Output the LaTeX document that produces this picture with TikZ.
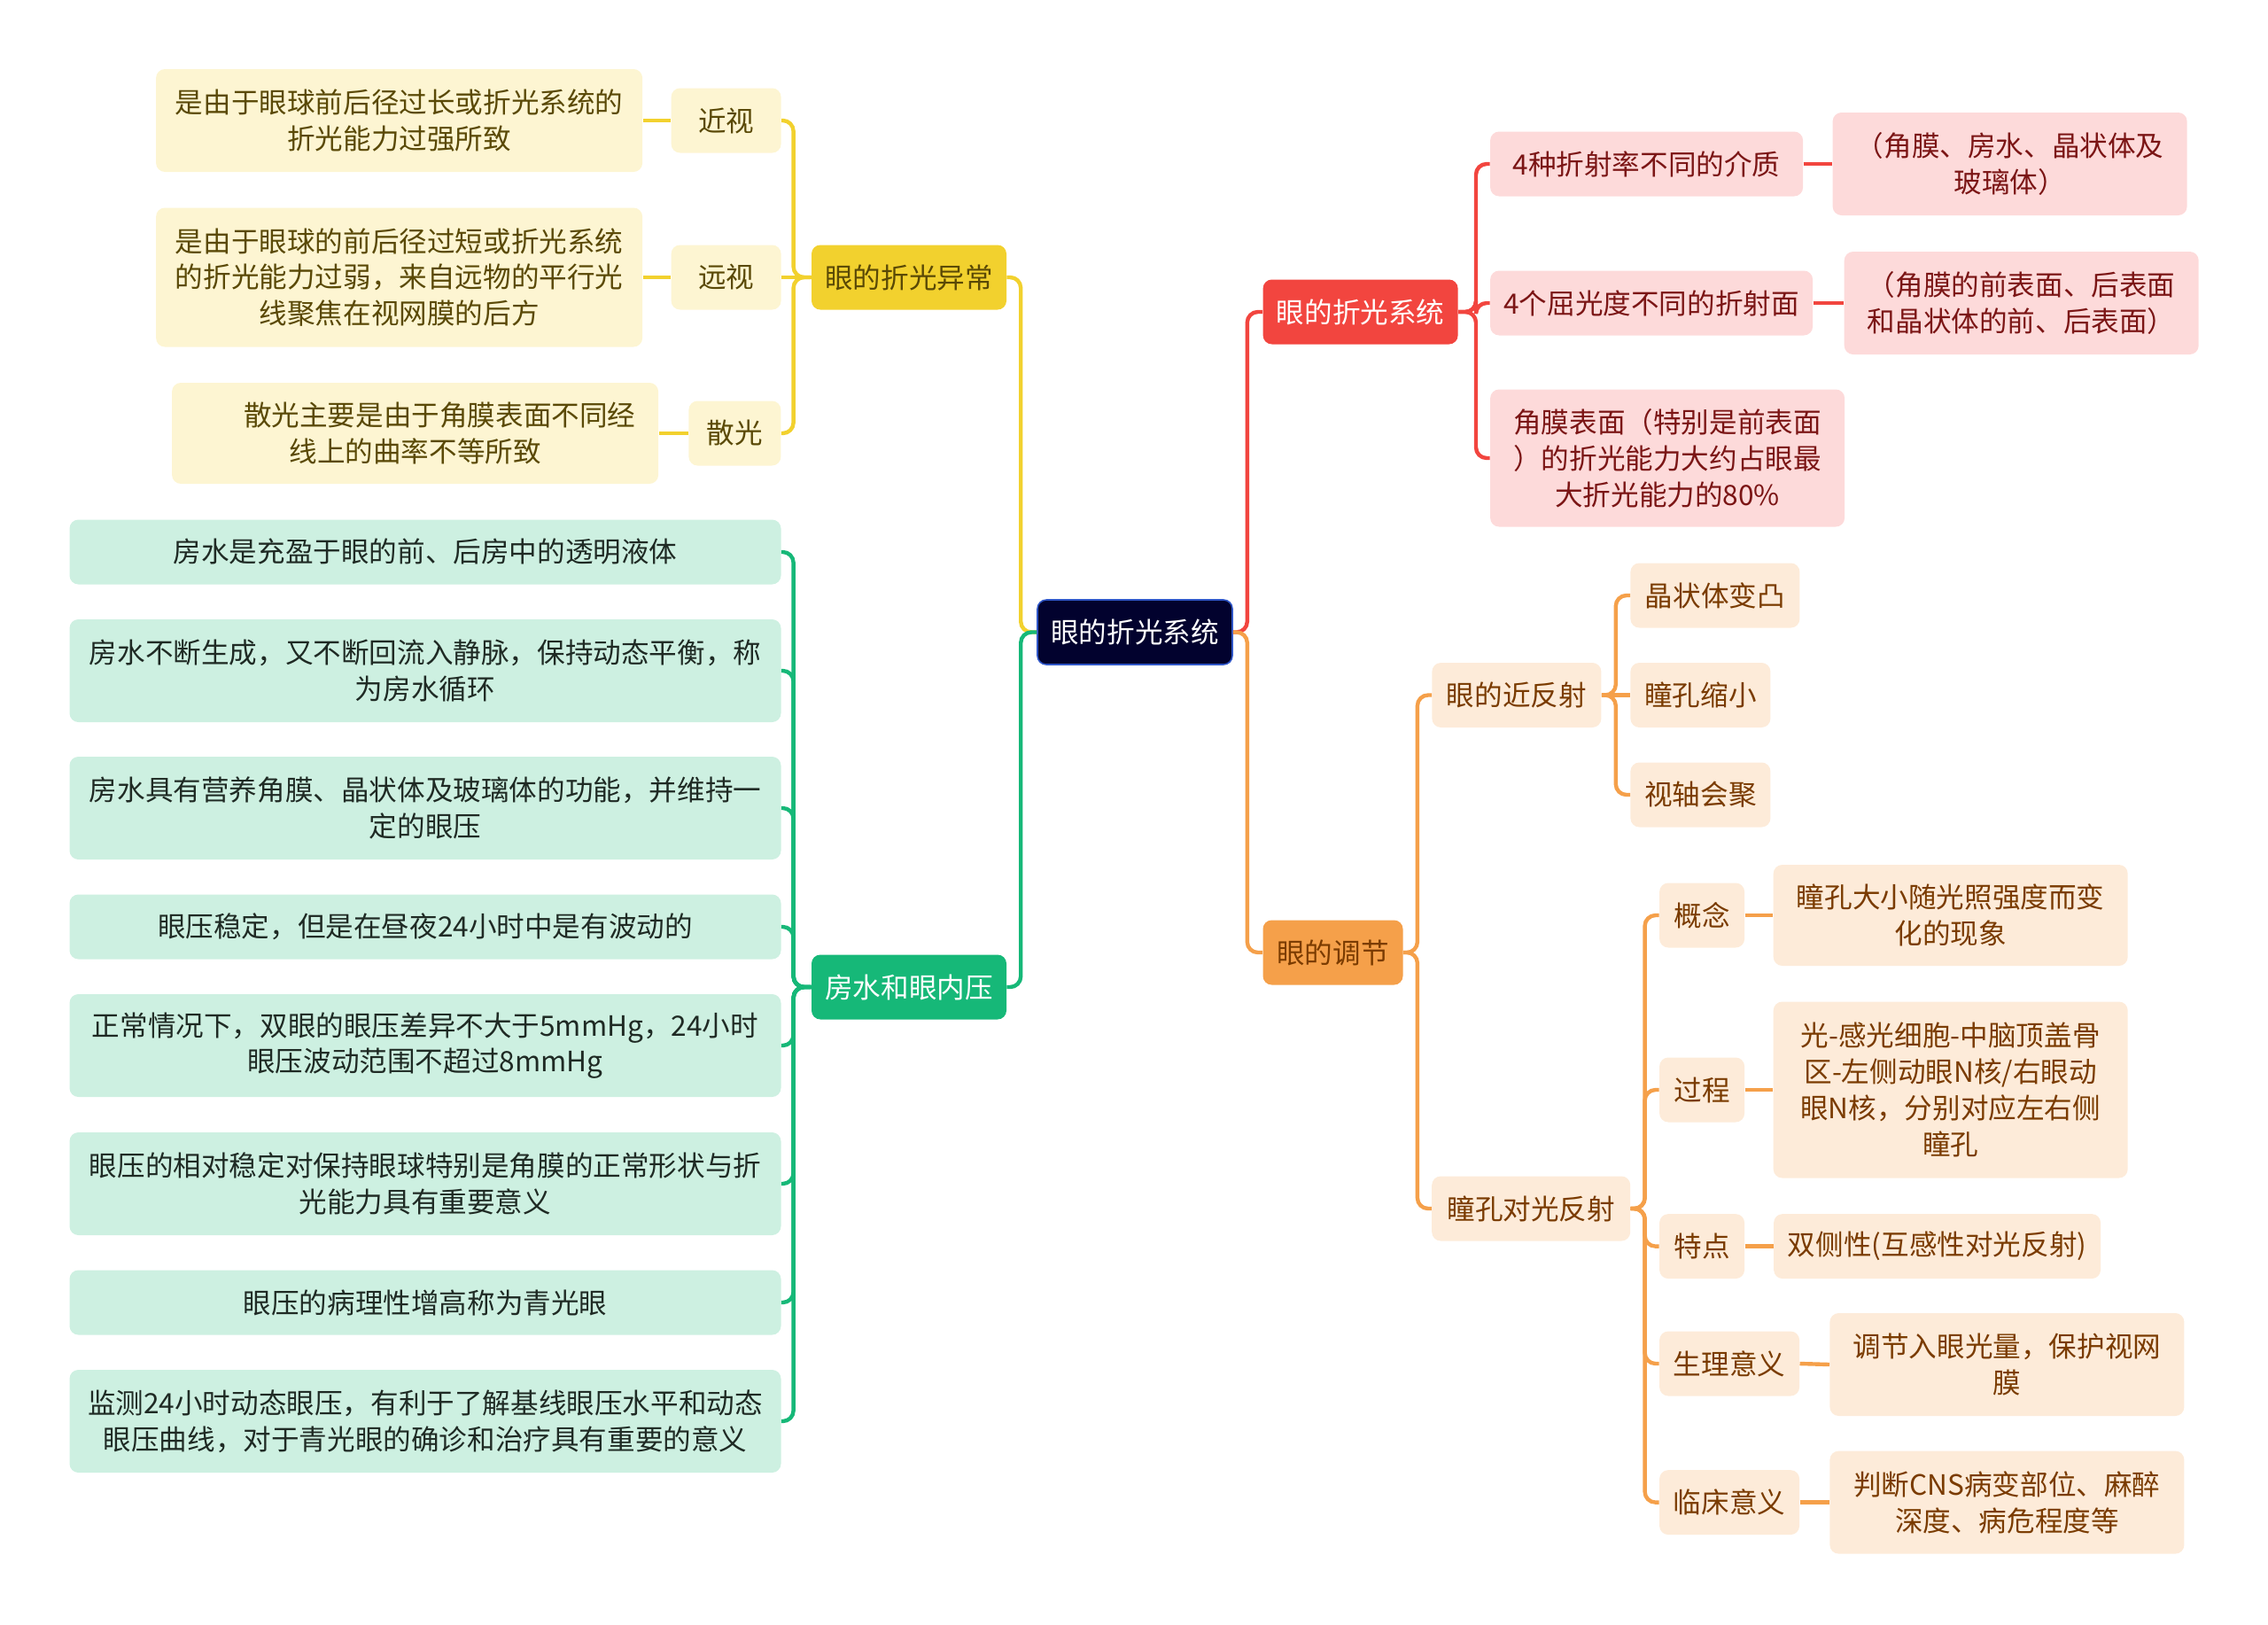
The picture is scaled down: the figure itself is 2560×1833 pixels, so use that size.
\documentclass[tikz,border=0pt]{standalone}
\usepackage{fontspec}
\setmainfont{Noto Sans CJK SC}
\definecolor{rootfill}{HTML}{02022E}
\definecolor{rootline}{HTML}{2F56C7}
\definecolor{ylwmain}{HTML}{F2D12E}
\definecolor{ylwleaf}{HTML}{FDF5D2}
\definecolor{ylwtext}{HTML}{5A4906}
\definecolor{grnmain}{HTML}{16B878}
\definecolor{grnleaf}{HTML}{CDF0E1}
\definecolor{grntext}{HTML}{1F2A24}
\definecolor{redmain}{HTML}{F2453F}
\definecolor{redleaf}{HTML}{FDDADA}
\definecolor{redtext}{HTML}{7B1515}
\definecolor{orgmain}{HTML}{F5A04A}
\definecolor{orgleaf}{HTML}{FDEBD9}
\definecolor{orgtext}{HTML}{7A3B00}
\begin{document}
\begin{tikzpicture}[x=0.5pt,y=-0.5pt,
  every node/.style={font=\fontsize{15.8}{20.4}\selectfont},
  box/.style={rounded corners=5pt,align=center,inner sep=2pt,minimum height=36.5pt},
  rootbox/.style={box,fill=rootfill,draw=rootline,line width=0.8pt,text=white,minimum width=110pt},
  ylwbox/.style={box,fill=ylwmain,text=ylwtext},
  ylwsub/.style={box,fill=ylwleaf,text=ylwtext},
  grnbox/.style={box,fill=grnmain,text=white},
  grnsub/.style={box,fill=grnleaf,text=grntext,minimum width=401.5pt},
  redbox/.style={box,fill=redmain,text=white},
  redsub/.style={box,fill=redleaf,text=redtext},
  orgbox/.style={box,fill=orgmain,text=orgtext},
  orgsub/.style={box,fill=orgleaf,text=orgtext},
  link/.style={line width=2.2pt,rounded corners=6pt},
  ylwline/.style={link,draw=ylwmain},
  grnline/.style={link,draw=grnmain},
  redline/.style={link,draw=redmain},
  orgline/.style={link,draw=orgmain}]
  \useasboundingbox (0,0) rectangle (2560,1833);
  % centre
  \node[rootbox] (root) at (1281,713.5) {眼的折光系统};
  % left: refraction errors
  \node[ylwbox,minimum width=110pt] (abn) at (1026,313) {眼的折光异常};
  \node[ylwsub,minimum width=62pt] (myo) at (819.6,136) {近视};
  \node[ylwsub,minimum width=62pt] (hyp) at (819.6,313) {远视};
  \node[ylwsub,minimum width=52pt] (ast) at (829.4,489) {散光};
  \node[ylwsub,minimum width=274.5pt,minimum height=58pt] (myoT) at (450.6,136) {是由于眼球前后径过长或折光系统的\\折光能力过强所致};
  \node[ylwsub,minimum width=274.5pt,minimum height=78.5pt] (hypT) at (450.6,313) {是由于眼球的前后径过短或折光系统\\的折光能力过弱，来自远物的平行光\\线聚焦在视网膜的后方};
  \node[ylwsub,minimum width=274.5pt,minimum height=57pt] (astT) at (468.6,489) {\hspace*{27.7pt}散光主要是由于角膜表面不同经\\线上的曲率不等所致};
  % left: aqueous humour
  \node[grnbox,minimum width=110pt] (aq) at (1026,1114) {房水和眼内压};
  \node[grnsub] (g1) at (480,623) {房水是充盈于眼的前、后房中的透明液体};
  \node[grnsub,minimum height=58pt] (g2) at (480,757) {房水不断生成，又不断回流入静脉，保持动态平衡，称\\为房水循环};
  \node[grnsub,minimum height=58pt] (g3) at (480,912) {房水具有营养角膜、晶状体及玻璃体的功能，并维持一\\定的眼压};
  \node[grnsub] (g4) at (480,1046) {眼压稳定，但是在昼夜24小时中是有波动的};
  \node[grnsub,minimum height=58pt] (g5) at (480,1180) {正常情况下，双眼的眼压差异不大于5mmHg，24小时\\眼压波动范围不超过8mmHg};
  \node[grnsub,minimum height=58pt] (g6) at (480,1336) {眼压的相对稳定对保持眼球特别是角膜的正常形状与折\\光能力具有重要意义};
  \node[grnsub] (g7) at (480,1470) {眼压的病理性增高称为青光眼};
  \node[grnsub,minimum height=58pt] (g8) at (480,1604) {监测24小时动态眼压，有利于了解基线眼压水平和动态\\眼压曲线，对于青光眼的确诊和治疗具有重要的意义};
  % right: refractive system
  \node[redbox,minimum width=110pt] (rs) at (1535.6,352) {眼的折光系统};
  \node[redsub,anchor=west,minimum width=176.5pt] (r1) at (1681.7,185) {4种折射率不同的介质};
  \node[redsub,anchor=west,minimum width=182pt] (r2) at (1681.7,342) {4个屈光度不同的折射面};
  \node[redsub,anchor=west,minimum width=200pt,minimum height=77.5pt] (r3) at (1681.7,517) {角膜表面（特别是前表面\\）的折光能力大约占眼最\\大折光能力的80\%};
  \node[redsub,minimum width=200pt,minimum height=58pt] (r1T) at (2268.6,185) {（角膜、房水、晶状体及\\玻璃体）};
  \node[redsub,minimum width=200pt,minimum height=58pt] (r2T) at (2281.7,342) {（角膜的前表面、后表面\\和晶状体的前、后表面）};
  % right: accommodation
  \node[orgbox,minimum width=79pt] (adj) at (1504.5,1075) {眼的调节};
  \node[orgsub,minimum width=95.5pt] (near) at (1711.9,784.5) {眼的近反射};
  \node[orgsub,minimum width=112pt] (light) at (1728.2,1364) {瞳孔对光反射};
  \node[orgsub,anchor=west,minimum width=95.5pt] (n1) at (1840,672) {晶状体变凸};
  \node[orgsub,anchor=west,minimum width=79pt] (n2) at (1840,784.5) {瞳孔缩小};
  \node[orgsub,anchor=west,minimum width=79pt] (n3) at (1840,897) {视轴会聚};
  \node[orgsub,anchor=west,minimum width=48pt] (c1) at (1872.7,1033) {概念};
  \node[orgsub,anchor=west,minimum width=48pt] (c2) at (1872.7,1230) {过程};
  \node[orgsub,anchor=west,minimum width=48pt] (c3) at (1872.7,1406.6) {特点};
  \node[orgsub,anchor=west,minimum width=79pt] (c4) at (1872.7,1539) {生理意义};
  \node[orgsub,anchor=west,minimum width=79pt] (c5) at (1872.7,1695.6) {临床意义};
  \node[orgsub,minimum width=200pt,minimum height=57pt] (c1T) at (2201.7,1033) {瞳孔大小随光照强度而变\\化的现象};
  \node[orgsub,minimum width=200pt,minimum height=99.5pt] (c2T) at (2201.7,1230) {光-感光细胞-中脑顶盖骨\\区-左侧动眼N核/右眼动\\眼N核，分别对应左右侧\\瞳孔};
  \node[orgsub,anchor=west,minimum width=184.5pt] (c3T) at (2001.7,1406.6) {双侧性(互感性对光反射)};
  \node[orgsub,minimum width=200pt,minimum height=58pt] (c4T) at (2265.4,1540) {调节入眼光量，保护视网\\膜};
  \node[orgsub,minimum width=200pt,minimum height=58pt] (c5T) at (2265.4,1695.6) {判断CNS病变部位、麻醉\\深度、病危程度等};
  % connectors
  \draw[ylwline] (root.west) -- ++(-18,0) |- (abn.east);
  \draw[grnline] (root.west) -- ++(-18,0) |- (aq.east);
  \draw[redline] (root.east) -- ++(16,0) |- (rs.west);
  \draw[orgline] (root.east) -- ++(16,0) |- (adj.west);
  \draw[ylwline] (abn.west) -- ++(-20,0) |- (myo.east);
  \draw[ylwline] (abn.west) -- (hyp.east);
  \draw[ylwline] (abn.west) -- ++(-20,0) |- (ast.east);
  \draw[ylwline] (myo.west) -- (myoT.east);
  \draw[ylwline] (hyp.west) -- (hypT.east);
  \draw[ylwline] (ast.west) -- (astT.east);
  \draw[grnline] (aq.west) -- ++(-20,0) |- (g1.east);
  \draw[grnline] (aq.west) -- ++(-20,0) |- (g2.east);
  \draw[grnline] (aq.west) -- ++(-20,0) |- (g3.east);
  \draw[grnline] (aq.west) -- ++(-20,0) |- (g4.east);
  \draw[grnline] (aq.west) -- ++(-20,0) |- (g5.east);
  \draw[grnline] (aq.west) -- ++(-20,0) |- (g6.east);
  \draw[grnline] (aq.west) -- ++(-20,0) |- (g7.east);
  \draw[grnline] (aq.west) -- ++(-20,0) |- (g8.east);
  \draw[redline] (rs.east) -- ++(20,0) |- (r1.west);
  \draw[redline] (rs.east) -- ++(20,0) |- (r2.west);
  \draw[redline] (rs.east) -- ++(20,0) |- (r3.west);
  \draw[redline] (r1.east) -- (r1T.west);
  \draw[redline] (r2.east) -- (r2T.west);
  \draw[orgline] (adj.east) -- ++(16,0) |- (near.west);
  \draw[orgline] (adj.east) -- ++(16,0) |- (light.west);
  \draw[orgline] (near.east) -- ++(16,0) |- (n1.west);
  \draw[orgline] (near.east) -- (n2.west);
  \draw[orgline] (near.east) -- ++(16,0) |- (n3.west);
  \draw[orgline] (light.east) -- ++(16,0) |- (c1.west);
  \draw[orgline] (light.east) -- ++(16,0) |- (c2.west);
  \draw[orgline] (light.east) -- ++(16,0) |- (c3.west);
  \draw[orgline] (light.east) -- ++(16,0) |- (c4.west);
  \draw[orgline] (light.east) -- ++(16,0) |- (c5.west);
  \draw[orgline] (c1.east) -- (c1T.west);
  \draw[orgline] (c2.east) -- (c2T.west);
  \draw[orgline] (c3.east) -- (c3T.west);
  \draw[orgline] (c4.east) -- (c4T.west);
  \draw[orgline] (c5.east) -- (c5T.west);
\end{tikzpicture}
\end{document}
